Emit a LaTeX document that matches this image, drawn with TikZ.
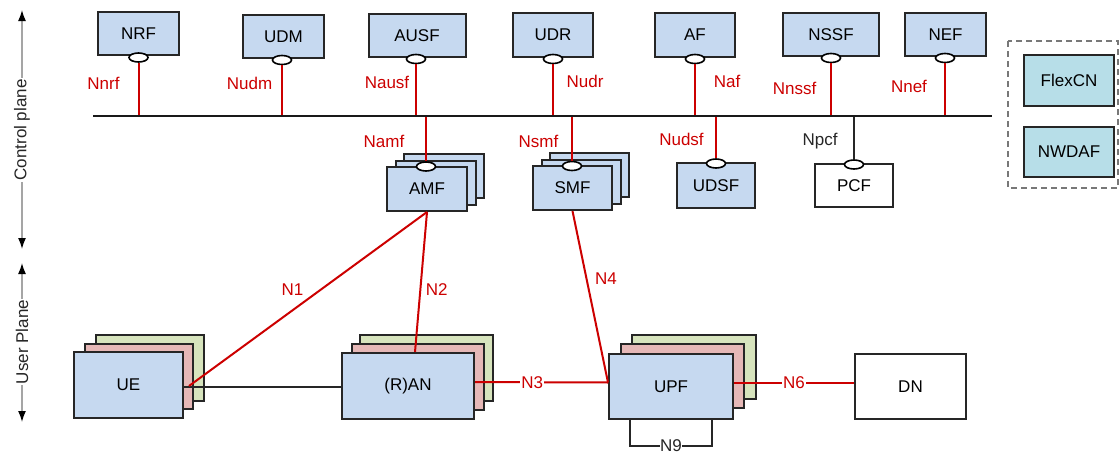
\documentclass[tikz,border=0pt]{standalone}
\usepackage{fontspec}
\setmainfont{Liberation Sans}
\usetikzlibrary{shapes.geometric,arrows.meta}
\definecolor{nfblue}{RGB}{198,217,240}
\definecolor{nfpink}{RGB}{230,184,183}
\definecolor{nfgreen}{RGB}{215,228,189}
\definecolor{nfteal}{RGB}{183,222,232}
\definecolor{ifred}{RGB}{204,0,0}
\definecolor{axisgray}{RGB}{165,165,165}
\definecolor{dashgray}{RGB}{120,120,120}
\tikzset{
  fs/.style={font=\fontsize{17}{20}\selectfont},
  nfbox/.style={fs, draw=black!85, line width=2pt, fill=nfblue, inner sep=0pt},
  pinkbox/.style={nfbox, fill=nfpink},
  greenbox/.style={nfbox, fill=nfgreen},
  whitebox/.style={nfbox, fill=white},
  tealbox/.style={nfbox, fill=nfteal},
  port/.style={ellipse, draw=black, fill=white, line width=1.6pt, minimum width=19pt, minimum height=9pt, inner sep=0pt},
  redline/.style={draw=ifred, line width=2pt},
  blackline/.style={draw=black!85, line width=2pt},
  redlabel/.style={fs, text=ifred, inner sep=0pt, anchor=base},
  blacklabel/.style={fs, text=black!85, inner sep=0pt, anchor=base},
  onlinelabel/.style={fs, fill=white, inner sep=1pt},
  axisline/.style={draw=axisgray, line width=1.5pt, {Latex[black,length=11pt,width=8pt]}-{Latex[black,length=11pt,width=8pt]}},
  axistext/.style={fs, rotate=90, fill=white, inner sep=1pt, text=black!85}
}
\begin{document}
\begin{tikzpicture}[x=1pt,y=-1pt]
\useasboundingbox (0,0) rectangle (1120,455);

% ---- axis
\coordinate (cpT) at (22,10);
\coordinate (cpB) at (22,249);
\draw[axisline] (cpT) -- (cpB);
\node[axistext] (cptext) at (22,130) {Control plane};
\coordinate (upT) at (22,263);
\coordinate (upB) at (22,422);
\draw[axisline] (upT) -- (upB);
\node[axistext] (uptext) at (22,342) {User Plane};

% ---- bus
\coordinate (busL) at (93,116);
\coordinate (busR) at (992,116);

% ---- top NFs
\node[nfbox, minimum width=81pt, minimum height=43pt] (nrf) at (138.5,33.5) {NRF};
\node[nfbox, minimum width=81pt, minimum height=43pt] (udm) at (283.5,36.5) {UDM};
\node[nfbox, minimum width=97pt, minimum height=43pt] (ausf) at (417,35.5) {AUSF};
\node[nfbox, minimum width=80pt, minimum height=44pt] (udr) at (553,35) {UDR};
\node[nfbox, minimum width=80pt, minimum height=44pt] (af) at (695,35) {AF};
\node[nfbox, minimum width=96pt, minimum height=43pt] (nssf) at (831,34.5) {NSSF};
\node[nfbox, minimum width=81pt, minimum height=43pt] (nef) at (945.5,34.5) {NEF};

\node[port] (pnrf) at (138.5,57.5) {};
\node[port] (pudm) at (282,60) {};
\node[port] (pausf) at (416,59) {};
\node[port] (pudr) at (553,59) {};
\node[port] (paf) at (695,59) {};
\node[port] (pnssf) at (831,58) {};
\node[port] (pnef) at (945,58) {};

\draw[redline] (pnrf.south) -- (pnrf.south |- busL);
\draw[redline] (pudm.south) -- (pudm.south |- busL);
\draw[redline] (pausf.south) -- (pausf.south |- busL);
\draw[redline] (pudr.south) -- (pudr.south |- busL);
\draw[redline] (paf.south) -- (paf.south |- busL);
\draw[redline] (pnssf.south) -- (pnssf.south |- busL);
\draw[redline] (pnef.south) -- (pnef.south |- busL);

\node[redlabel] (lnrf) at (103.5,89.5) {Nnrf};
\node[redlabel] (ludm) at (249.5,89) {Nudm};
\node[redlabel] (lausf) at (387,88) {Nausf};
\node[redlabel] (ludr) at (585,87.5) {Nudr};
\node[redlabel] (laf) at (727,87.5) {Naf};
\node[redlabel] (lnssf) at (794.5,94) {Nnssf};
\node[redlabel] (lnef) at (909,92) {Nnef};

% ---- middle NFs
\node[nfbox, minimum width=80pt, minimum height=44pt] (amf3) at (444,176) {};
\node[nfbox, minimum width=80pt, minimum height=44pt] (amf2) at (435.5,182.5) {};
\node[nfbox, minimum width=80pt, minimum height=44pt] (amf) at (427,189) {AMF};
\node[nfbox, minimum width=79pt, minimum height=44pt] (smf3) at (589.5,175) {};
\node[nfbox, minimum width=79pt, minimum height=44pt] (smf2) at (581,181.5) {};
\node[nfbox, minimum width=79pt, minimum height=44pt] (smf) at (572.5,188) {SMF};
\node[nfbox, minimum width=78pt, minimum height=45pt] (udsf) at (716,185.5) {UDSF};
\node[whitebox, minimum width=78pt, minimum height=43pt] (pcf) at (854,185.5) {PCF};

\node[port] (pamf) at (426,166.5) {};
\node[port] (psmf) at (572,166) {};
\node[port] (pudsf) at (716,163.5) {};
\node[port] (ppcf) at (854,164.5) {};

\draw[redline] (pamf.north |- busL) -- (pamf.north);
\draw[redline] (psmf.north |- busL) -- (psmf.north);
\draw[redline] (pudsf.north |- busL) -- (pudsf.north);
\draw[blackline] (ppcf.north |- busL) -- (ppcf.north);

\draw[line width=2pt, draw=black!90] (busL) -- (busR);

\node[redlabel] (lamf) at (384,147) {Namf};
\node[redlabel] (lsmf) at (538.5,147) {Nsmf};
\node[redlabel] (ludsf) at (681.5,145) {Nudsf};
\node[blacklabel] (lpcf) at (820,145) {Npcf};

% ---- dashed group
\draw[draw=dashgray, line width=1.5pt, dash pattern=on 6pt off 4pt] (1008,41) rectangle (1118,188);
\node[tealbox, minimum width=90pt, minimum height=51pt] (flexcn) at (1069,80.5) {FlexCN};
\node[tealbox, minimum width=90pt, minimum height=50pt] (nwdaf) at (1069,152) {NWDAF};

% ---- user plane
\node[greenbox, minimum width=108pt, minimum height=66pt] (ue3) at (150,368) {};
\node[pinkbox, minimum width=108pt, minimum height=65pt] (ue2) at (139,376.5) {};
\node[nfbox, minimum width=109pt, minimum height=66pt] (ue) at (128.5,385) {UE};

\node[greenbox, minimum width=133pt, minimum height=66pt] (ran3) at (426.5,368) {};
\node[pinkbox, minimum width=132pt, minimum height=66pt] (ran2) at (418,377) {};
\node[nfbox, minimum width=132pt, minimum height=66pt] (ran) at (408,386) {(R)AN};

\node[greenbox, minimum width=124pt, minimum height=64pt] (upf3) at (694,367) {};
\node[pinkbox, minimum width=123pt, minimum height=64pt] (upf2) at (682.5,376) {};
\node[nfbox, minimum width=124pt, minimum height=65pt] (upf) at (671,386.5) {UPF};

\node[whitebox, minimum width=111pt, minimum height=65pt] (dn) at (910.5,386.5) {DN};

% ---- connectors
\draw[blackline] ([yshift=-2pt]ue.east) -- ([yshift=-2pt]ue.east -| ran.west);
\draw[redline] ([xshift=5pt,yshift=-1pt]ue.east) -- (amf.south);
\draw[redline] (amf.south) -- ([xshift=7pt]ran.north);
\draw[redline] (smf.south) -- ([yshift=4pt]upf.west);
\draw[redline] ([yshift=4pt]ran.east) -- node[pos=0.43, onlinelabel, text=ifred] (ln3) {N3} ([yshift=4pt]upf.west);
\draw[redline] ([yshift=4pt]upf.east) -- node[pos=0.5, onlinelabel, text=ifred] (ln6) {N6} ([yshift=4pt]dn.west);

\coordinate (n9a) at (630,446);
\coordinate (n9b) at (712,446);
\draw[blackline] (upf.south -| n9a) -- (n9a) -- node[pos=0.5, onlinelabel, text=black!85, inner sep=0.5pt] (ln9) {N9} (n9b) -- (upf.south -| n9b);

\node[redlabel] (ln1) at (292.5,295) {N1};
\node[redlabel] (ln2) at (436.7,295) {N2};
\node[redlabel] (ln4) at (606,284) {N4};
\end{tikzpicture}
\end{document}
